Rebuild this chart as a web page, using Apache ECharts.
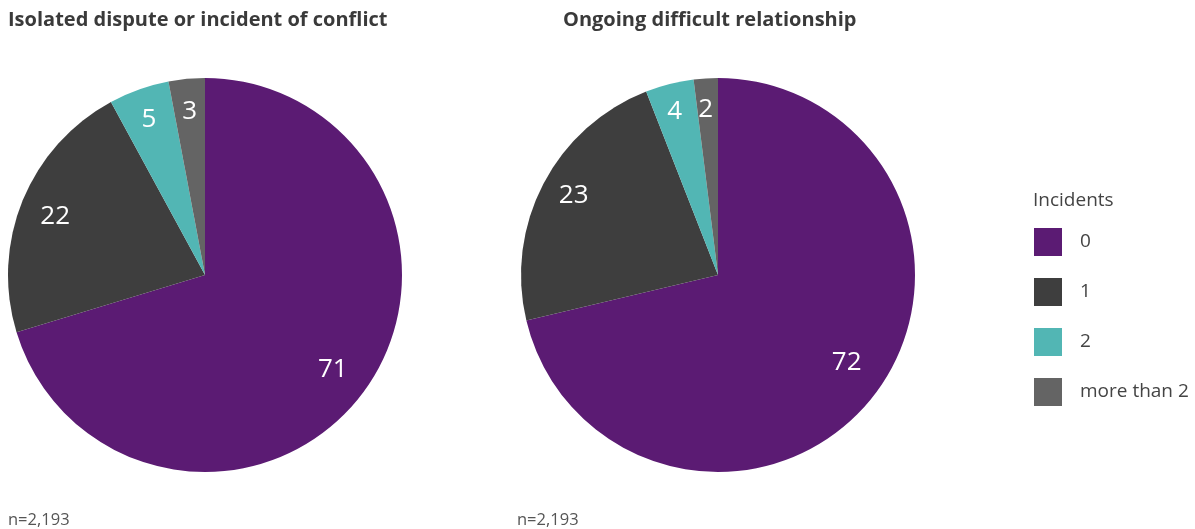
<!DOCTYPE html>
<html><head><meta charset="utf-8">
<script src="https://cdn.jsdelivr.net/npm/echarts@6/dist/echarts.min.js"></script>
<style>html,body{margin:0;padding:0;background:#fff}#c{width:1195px;height:529px}</style>
</head><body><div id="c"></div>
<script>
const categories = ['0', '1', '2', 'more than 2'];
const isolatedValues = [71, 22, 5, 3];
const ongoingValues = [72, 23, 4, 2];
const chartTitles = ['Isolated dispute or incident of conflict', 'Ongoing difficult relationship'];
const sampleNote = 'n=2,193';
const legendTitle = 'Incidents';
const colors = ['#5b1b73', '#3e3e3e', '#52b6b4', '#646464'];
const FONT = '"Open Sans", Lato, sans-serif';
// label styling: small nudges of each value label from its default in-slice spot
const centers = [[205, 275], [718, 275]];
const labelNudges = [[[-4,-3],[2,4],[-1,-1],[0,0]], [[0,-14],[1,-3],[-3,-4],[-2,-2]]];

function mk(vals){ return categories.map((c,i)=>({name:c, value:vals[i]})); }
function pieSeries(vals, p){
  const [cx, cy] = centers[p];
  return [{
    type:'pie', center:[cx,cy], radius:[0,197], startAngle:90, clockwise:true,
    color:colors, label:{show:false}, labelLine:{show:false}, silent:true,
    itemStyle:{borderWidth:0}, data:mk(vals), animation:false
  },{
    type:'pie', center:[cx,cy], radius:[126,196], startAngle:90, clockwise:true,
    silent:true, legendHoverLink:false, animation:false,
    itemStyle:{color:'rgba(0,0,0,0)'},
    label:{show:true, position:'inside', color:'#fff', fontSize:26, fontFamily:FONT, formatter:'{c}'},
    labelLine:{show:false}, data:mk(vals).map(d=>({...d, name:d.name+' '})),
    labelLayout: function(params){
      const n = labelNudges[p][params.dataIndex];
      return {dx: n[0], dy: n[1]};
    }
  }];
}
const chart = echarts.init(document.getElementById('c'), null, {renderer:'canvas'});
chart.setOption({
  animation:false,
  title:[
    {text:chartTitles[0], left:3, top:5, textStyle:{fontFamily:FONT, fontWeight:'bold', fontSize:20, color:'#3a3a3a'}},
    {text:chartTitles[1], left:558, top:5, textStyle:{fontFamily:FONT, fontWeight:'bold', fontSize:20, color:'#3a3a3a'}},
    {text:sampleNote, left:3, top:507, textStyle:{fontFamily:FONT, fontWeight:'normal', fontSize:16.5, color:'#555'}},
    {text:sampleNote, left:512, top:507, textStyle:{fontFamily:FONT, fontWeight:'normal', fontSize:16.5, color:'#555'}},
    {text:legendTitle, left:1028, top:186, textStyle:{fontFamily:FONT, fontWeight:'normal', fontSize:19, color:'#444'}}
  ],
  legend:{
    orient:'vertical', left:1029, top:223, itemWidth:28, itemHeight:28, itemGap:22,
    icon:'rect', data:categories, selectedMode:false,
    textStyle:{fontFamily:FONT, fontSize:19, color:'#444', padding:[0,0,0,13]}
  },
  series:[...pieSeries(isolatedValues, 0), ...pieSeries(ongoingValues, 1)]
});
</script></body></html>
